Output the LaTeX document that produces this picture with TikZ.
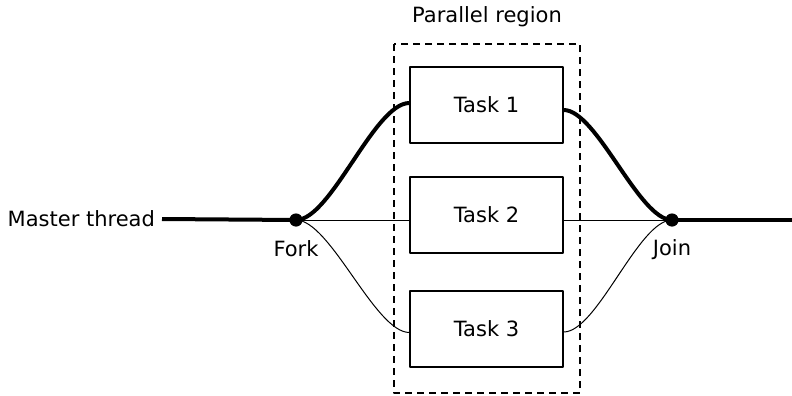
\documentclass[tikz,border=0pt]{standalone}
\usepackage{fontspec}
\setmainfont{DejaVu Sans}
\usetikzlibrary{positioning, calc}

\tikzset{
  taskbox/.style={draw, line width=0.65pt, fill=white, minimum width=76.5pt, minimum height=38pt, inner sep=0pt},
  junction/.style={circle, fill=black, inner sep=0pt, minimum size=6.6pt},
  thread/.style={line width=2pt},
  subthread/.style={line width=0.5pt},
  region/.style={draw, line width=0.65pt, dash pattern=on 3.5pt off 2.5pt},
}

\begin{document}
\begin{tikzpicture}[x=0.5pt, y=-0.5pt, line join=round, font=\fontsize{10.5}{12.6}\selectfont]
      \useasboundingbox (0,0) rectangle (792,396);

      % Region paralela
      \draw[region] (394,44) rectangle (580,393);
      \node (plabel) at (487,17) {Parallel region};

      % Tareas
      \node[taskbox] (t1) at (486.5,105) {Task 1};
      \node[taskbox] (t2) at (486.5,215) {Task 2};
      \node[taskbox] (t3) at (486.5,329) {Task 3};

      % Fork / join
      \coordinate (forkpt) at (296,220);
      \coordinate (joinpt) at (672,220);
      \coordinate (tail) at (792,220);
      \node[anchor=east] (master) at (162,219) {Master thread};

      % Puntos de contacto
      \coordinate (t1in) at ($(t1.west)+(0,-2)$);
      \coordinate (t1out) at ($(t1.east)+(0,5)$);
      \coordinate (t3in) at ($(t3.west)+(0,3.5)$);
      \coordinate (t3out) at ($(t3.east)+(0,3)$);

      % Hilos
      \draw[thread] (master.east) -- (forkpt);
      \draw[thread] (joinpt) -- (tail);
      \draw[thread] (forkpt) to[out=0, in=180, looseness=0.55] (t1in);
      \draw[thread] (t1out) to[out=0, in=180, looseness=0.55] (joinpt);
      \draw[subthread] (forkpt) -- (t2.west |- forkpt);
      \draw[subthread] (t2.east |- joinpt) -- (joinpt);
      \draw[subthread] (forkpt) to[out=0, in=180, looseness=0.55] (t3in);
      \draw[subthread] (t3out) to[out=0, in=180, looseness=0.55] (joinpt);

      \node[junction] (fork) at (forkpt) {};
      \node[junction] (join) at (joinpt) {};
      \node[below=3.2pt of fork] (forklabel) {Fork};
      \node[below=2.6pt of join] (joinlabel) {Join};
    \end{tikzpicture}
\end{document}
